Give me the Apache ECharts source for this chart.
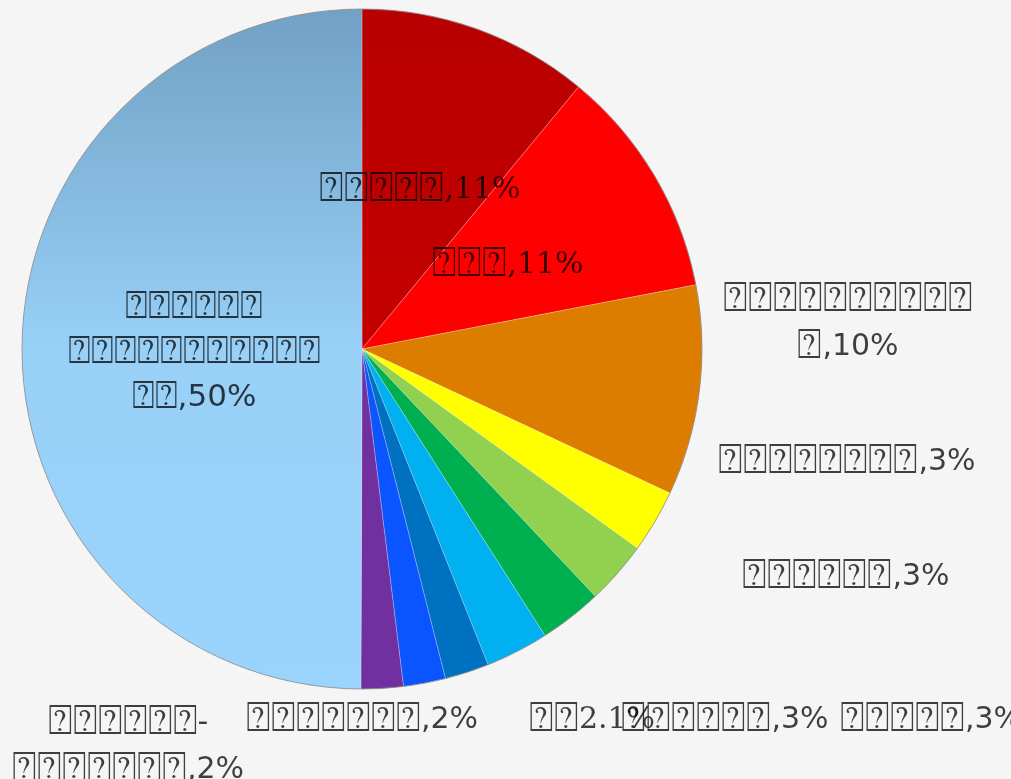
<!DOCTYPE html>
<html>
<head>
<meta charset="utf-8">
<script src="https://cdn.jsdelivr.net/npm/echarts@6/dist/echarts.min.js"></script>
<style>
  html, body { margin: 0; padding: 0; background: #f5f5f5; }
  #chart { width: 1011px; height: 779px; }
</style>
</head>
<body>
<div id="chart"></div>
<script>
// Category names (clockwise from 12 o'clock); the glyphs are unavailable and show as boxes
const categories = [
  '⍰⍰⍰⍰⍰',
  '⍰⍰⍰',
  '⍰⍰⍰⍰⍰⍰⍰⍰⍰⍰\n⍰',
  '⍰⍰⍰⍰⍰⍰⍰⍰',
  '⍰⍰⍰⍰⍰⍰',
  '⍰⍰⍰⍰⍰',
  '⍰⍰⍰⍰⍰⍰',
  '⍰⍰',
  '⍰⍰⍰⍰⍰⍰⍰',
  '⍰⍰⍰⍰⍰⍰-\n⍰⍰⍰⍰⍰⍰⍰',
  '⍰⍰⍰⍰⍰⍰\n⍰⍰⍰⍰⍰⍰⍰⍰⍰⍰⍰\n⍰⍰'
];
// Share of each category, in percent
const shares = [11, 11, 10, 3, 3, 3, 3, 2.1, 2, 2, 50];
// Slice colours
const colors = [
  '#c00000', '#ff0000', '#dc7d00', '#ffff00', '#92d050', '#00b050',
  '#00b0f0', '#0070c0', '#0a55ff', '#7030a0', '#9ad3fb'
];

// Label anchor point and alignment for each slice
const labelPos = [
  [420, 190, 'center'], [508, 265, 'center'], [848, 324, 'center'],
  [847, 462, 'center'], [846, 577, 'center'], [840, 720, 'left'],
  [725, 720, 'center'], [592, 720, 'center'], [362, 720, 'center'],
  [128, 747, 'center'], [194, 353, 'center']
];
const serifSlices = [0, 1, 7];

// Wrap runs of box glyphs in the larger 'q' style, everything else in 't'
function richLine(line) {
  return line.replace(/(⍰+)|([^⍰]+)/g, (m, boxes, rest) =>
    boxes ? '{q|' + boxes + '}' : '{t|' + rest + '}');
}

const chart = echarts.init(document.getElementById('chart'), null, { renderer: 'canvas' });

const seriesData = categories.map((name, i) => {
  let color = colors[i];
  if (i === 10) {
    color = new echarts.graphic.LinearGradient(0, 0, 0, 1, [
      { offset: 0, color: '#71a1c4' },
      { offset: 0.5, color: '#98d0f8' },
      { offset: 1, color: '#9ad3fb' }
    ]);
  } else if (i === 0) {
    color = new echarts.graphic.LinearGradient(0, 0, 0, 1, [
      { offset: 0, color: '#b80000' },
      { offset: 1, color: '#c40000' }
    ]);
  }
  const family = serifSlices.includes(i) ? 'DejaVu Serif' : 'DejaVu Sans';
  const big = i === 10;
  const lh = big ? 45 : 47;
  const txt = { color: 'rgba(0,0,0,0.75)', fontFamily: family, lineHeight: lh, verticalAlign: 'middle' };
  return {
    name,
    value: shares[i],
    itemStyle: { color },
    label: {
      align: labelPos[i][2],
      rich: {
        q: Object.assign({ fontSize: big ? 38 : 41 }, txt),
        t: Object.assign({ fontSize: big ? 31 : 30 }, txt)
      }
    }
  };
});

chart.setOption({
  backgroundColor: '#f5f5f5',
  animation: false,
  series: [
    {
      type: 'pie',
      center: [362, 349],
      radius: 340,
      startAngle: 90,
      clockwise: true,
      avoidLabelOverlap: false,
      silent: true,
      itemStyle: { borderColor: 'rgba(255,255,255,0.3)', borderWidth: 0.8 },
      label: {
        show: true,
        position: 'outside',
        color: 'rgba(0,0,0,0.75)',
        fontSize: 30,
        lineHeight: 47,
        formatter: p => {
          const text = p.name + (p.dataIndex === 7 ? '' : ',') + p.value + '%';
          return text.split('\n').map(richLine).join('\n');
        }
      },
      labelLine: { show: false },
      labelLayout: p => ({
        x: labelPos[p.dataIndex][0],
        y: labelPos[p.dataIndex][1],
        align: labelPos[p.dataIndex][2],
        verticalAlign: 'middle',
        hideOverlap: false
      }),
      data: seriesData
    },
    {
      // thin outline round the whole pie
      type: 'pie',
      center: [362, 349],
      radius: 340,
      silent: true,
      label: { show: false },
      labelLine: { show: false },
      itemStyle: { color: 'rgba(0,0,0,0)', borderColor: 'rgba(120,120,120,0.7)', borderWidth: 1 },
      data: [{ value: 1, name: '' }]
    }
  ]
});
</script>
</body>
</html>
